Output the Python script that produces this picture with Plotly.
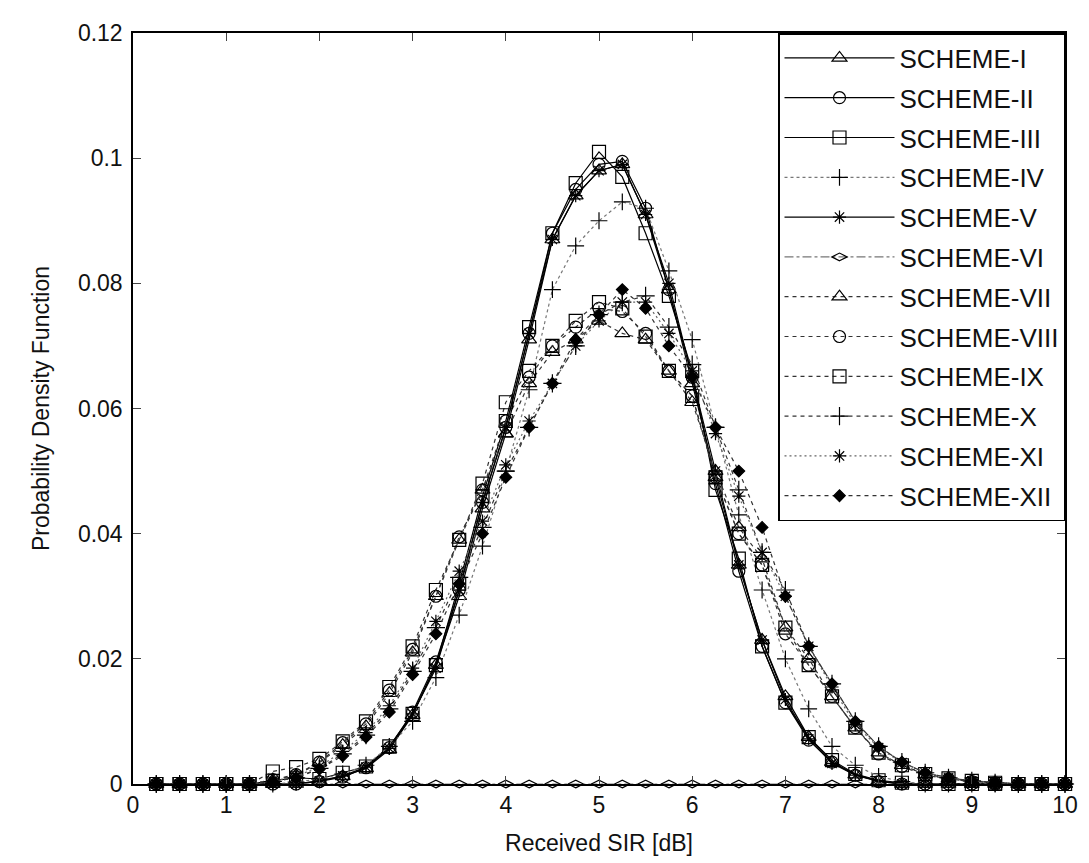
import plotly.graph_objects as go

sir_db = [0.25, 0.5, 0.75, 1.0, 1.25, 1.5, 1.75, 2.0, 2.25, 2.5,
          2.75, 3.0, 3.25, 3.5, 3.75, 4.0, 4.25, 4.5, 4.75, 5.0,
          5.25, 5.5, 5.75, 6.0, 6.25, 6.5, 6.75, 7.0, 7.25, 7.5,
          7.75, 8.0, 8.25, 8.5, 8.75, 9.0, 9.25, 9.5, 9.75, 10.0]

scheme_1 = [0, 0, 0, 0, 0, 0, 0, 0.0005, 0.0012, 0.0025,
            0.0055, 0.011, 0.019, 0.030, 0.044, 0.056, 0.071, 0.087, 0.094, 0.098,
            0.099, 0.091, 0.079, 0.064, 0.049, 0.035, 0.023, 0.014, 0.0075, 0.0035,
            0.0015, 0.0005, 0, 0, 0, 0, 0, 0, 0, 0]
scheme_2 = [0, 0, 0, 0, 0, 0, 0, 0.0004, 0.0011, 0.0026,
            0.0058, 0.0115, 0.0195, 0.031, 0.045, 0.057, 0.072, 0.088, 0.095, 0.099,
            0.0995, 0.092, 0.079, 0.065, 0.048, 0.034, 0.022, 0.013, 0.007, 0.0035,
            0.0014, 0.0004, 0, 0, 0, 0, 0, 0, 0, 0]
scheme_3 = [0, 0, 0, 0, 0, 0.0005, 0.001, 0.0008, 0.0018, 0.0028,
            0.006, 0.0112, 0.019, 0.032, 0.046, 0.058, 0.073, 0.088, 0.096, 0.101,
            0.097, 0.088, 0.078, 0.066, 0.047, 0.036, 0.022, 0.013, 0.0075, 0.0038,
            0.0016, 0.0006, 0.0002, 0, 0, 0, 0, 0, 0, 0]
scheme_4 = [0, 0, 0, 0, 0, 0, 0.0003, 0.0008, 0.0016, 0.003,
            0.006, 0.010, 0.017, 0.027, 0.038, 0.050, 0.063, 0.079, 0.086, 0.090,
            0.093, 0.092, 0.082, 0.071, 0.057, 0.043, 0.031, 0.020, 0.012, 0.006,
            0.003, 0.0012, 0.0004, 0, 0, 0, 0, 0, 0, 0]
scheme_5 = [0, 0, 0, 0, 0, 0, 0, 0.0005, 0.0013, 0.0027,
            0.0057, 0.0112, 0.0185, 0.031, 0.045, 0.057, 0.072, 0.087, 0.094, 0.098,
            0.099, 0.091, 0.080, 0.065, 0.050, 0.035, 0.023, 0.0135, 0.0072, 0.0033,
            0.0014, 0.0005, 0, 0, 0, 0, 0, 0, 0, 0]
scheme_6 = [0, 0, 0, 0, 0, 0, 0, 0, 0, 0,
            0, 0, 0, 0, 0, 0, 0, 0, 0, 0,
            0, 0, 0, 0, 0, 0, 0, 0, 0, 0,
            0, 0, 0, 0, 0, 0, 0, 0, 0, 0]
scheme_7 = [0, 0, 0, 0, 0, 0.0006, 0.0014, 0.0034, 0.0062, 0.0092,
            0.0145, 0.021, 0.030, 0.039, 0.047, 0.056, 0.064, 0.069, 0.071, 0.074,
            0.072, 0.071, 0.066, 0.061, 0.050, 0.041, 0.036, 0.025, 0.020, 0.014,
            0.009, 0.005, 0.003, 0.0015, 0.0008, 0.0004, 0.0002, 0, 0, 0]
scheme_8 = [0, 0, 0, 0, 0, 0.0007, 0.0015, 0.0035, 0.0066, 0.0096,
            0.015, 0.0215, 0.030, 0.0395, 0.047, 0.058, 0.065, 0.070, 0.073, 0.076,
            0.0755, 0.072, 0.066, 0.062, 0.049, 0.040, 0.035, 0.024, 0.019, 0.014,
            0.009, 0.0048, 0.0028, 0.0014, 0.0008, 0.0004, 0.0002, 0, 0, 0]
scheme_9 = [0, 0, 0, 0, 0, 0.002, 0.0027, 0.004, 0.0068, 0.010,
            0.0155, 0.022, 0.031, 0.039, 0.048, 0.061, 0.066, 0.070, 0.074, 0.077,
            0.076, 0.0715, 0.066, 0.062, 0.049, 0.040, 0.035, 0.025, 0.019, 0.014,
            0.009, 0.005, 0.003, 0.0016, 0.0009, 0.0005, 0.0002, 0, 0, 0]
scheme_10 = [0, 0, 0, 0, 0, 0.0004, 0.001, 0.0025, 0.0048, 0.0078,
             0.012, 0.018, 0.025, 0.033, 0.041, 0.050, 0.057, 0.064, 0.070, 0.075,
             0.077, 0.078, 0.073, 0.067, 0.057, 0.047, 0.037, 0.031, 0.022, 0.016,
             0.010, 0.006, 0.0035, 0.0018, 0.001, 0.0005, 0.0002, 0, 0, 0]
scheme_11 = [0, 0, 0, 0, 0, 0.0005, 0.0012, 0.0028, 0.0052, 0.0082,
             0.0125, 0.0185, 0.026, 0.034, 0.042, 0.051, 0.058, 0.064, 0.070, 0.074,
             0.077, 0.077, 0.072, 0.066, 0.056, 0.046, 0.037, 0.030, 0.022, 0.0155,
             0.0095, 0.0058, 0.0034, 0.0018, 0.001, 0.0005, 0.0002, 0, 0, 0]
scheme_12 = [0, 0, 0, 0, 0, 0.0004, 0.001, 0.0024, 0.0045, 0.0075,
             0.0115, 0.0175, 0.024, 0.032, 0.040, 0.049, 0.057, 0.064, 0.071, 0.075,
             0.079, 0.076, 0.070, 0.065, 0.057, 0.050, 0.041, 0.030, 0.022, 0.016,
             0.010, 0.006, 0.0035, 0.0018, 0.001, 0.0005, 0.0002, 0, 0, 0]

scheme_names = ["SCHEME-I", "SCHEME-II", "SCHEME-III", "SCHEME-IV", "SCHEME-V", "SCHEME-VI",
                "SCHEME-VII", "SCHEME-VIII", "SCHEME-IX", "SCHEME-X", "SCHEME-XI", "SCHEME-XII"]
scheme_values = [scheme_1, scheme_2, scheme_3, scheme_4, scheme_5, scheme_6,
                 scheme_7, scheme_8, scheme_9, scheme_10, scheme_11, scheme_12]

y_ticks = [0, 0.02, 0.04, 0.06, 0.08, 0.1, 0.12]
y_tick_text = ["0", "0.02", "0.04", "0.06", "0.08", "0.1", "0.12"]
x_ticks = [0, 1, 2, 3, 4, 5, 6, 7, 8, 9, 10]

# marker, dash, line colour, marker size
styles = [
    ("triangle-up-open", "solid", "#000000", 13),
    ("circle-open", "solid", "#000000", 12),
    ("square-open", "solid", "#000000", 13),
    ("cross-thin-open", "dot", "#777777", 12),
    ("asterisk-open", "solid", "#000000", 11),
    ("diamond-wide-open", "dashdot", "#777777", 11),
    ("triangle-up-open", "4px,4px", "#333333", 13),
    ("circle-open", "4px,4px", "#333333", 12),
    ("square-open", "4px,4px", "#333333", 13),
    ("cross-thin-open", "4px,4px", "#333333", 13),
    ("asterisk-open", "2px,3px", "#666666", 11),
    ("diamond", "4px,4px", "#333333", 9),
]

fig = go.Figure()
for name, vals, (sym, dash, col, msize) in zip(scheme_names, scheme_values, styles):
    fig.add_trace(go.Scatter(
        x=sir_db, y=vals, name=name, mode="lines+markers",
        line=dict(color=col, width=1.2, dash=dash),
        marker=dict(symbol=sym, size=msize, color="#000000",
                    line=dict(color="#000000", width=1.2)),
        legendgroup=name, cliponaxis=False,
    ))

axis_font = dict(family="Liberation Sans, Arial, sans-serif", size=23, color="#111111")

fig.update_xaxes(range=[0, 10], tickvals=x_ticks, ticks="inside", ticklen=8,
                 showline=True, linecolor="black", linewidth=1.5, mirror="ticks",
                 showgrid=False, zeroline=False, tickfont=axis_font,
                 title=dict(text="Received SIR [dB]", font=axis_font, standoff=18))
fig.update_yaxes(range=[0, 0.12], tickvals=y_ticks, ticktext=y_tick_text, ticks="inside",
                 ticklen=8, showline=True, linecolor="black", linewidth=1.5, mirror="ticks",
                 showgrid=False, zeroline=False, tickfont=axis_font, ticklabelstandoff=4,
                 title=dict(text="Probability Density Function", font=axis_font, standoff=22))

fig.update_layout(
    width=1081, height=855,
    margin=dict(l=125, r=11, t=25, b=78),
    plot_bgcolor="white", paper_bgcolor="white",
    font=axis_font,
    legend=dict(x=1, y=1, xanchor="right", yanchor="top",
                bgcolor="white", bordercolor="black", borderwidth=1.5,
                font=dict(family="Liberation Sans, Arial, sans-serif", size=26, color="#111111"),
                itemwidth=110, tracegroupgap=3),
)

fig.write_html("out.html")
